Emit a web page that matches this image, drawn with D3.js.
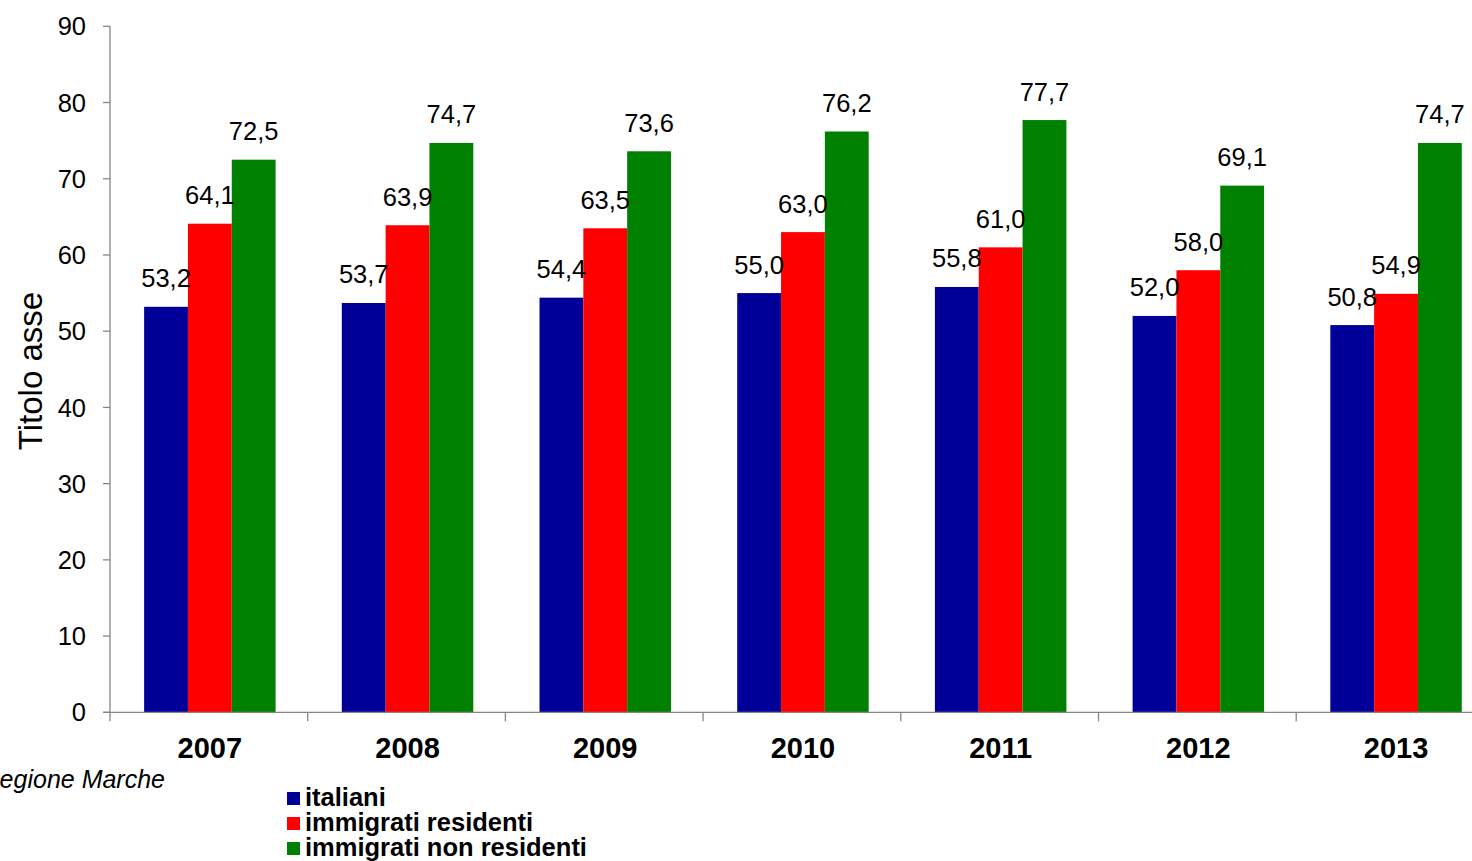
<html>

<head>
    <script src="https://d3js.org/d3.v7.min.js"></script>
    <title>Titolo asse</title>
    <style>
        body { margin: 0; background: #fff; }
        svg { font-family: "Liberation Sans", Arial, sans-serif; display: block; }
    </style>
</head>

<body>
    <div id="vis"></div>
</body>

<script>

    // data
    var years = ["2007", "2008", "2009", "2010", "2011", "2012", "2013"];
    var seriesNames = ["italiani", "immigrati residenti", "immigrati non residenti"];
    var italiani = [53.2, 53.7, 54.4, 55.0, 55.8, 52.0, 50.8];
    var immigratiResidenti = [64.1, 63.9, 63.5, 63.0, 61.0, 58.0, 54.9];
    var immigratiNonResidenti = [72.5, 74.7, 73.6, 76.2, 77.7, 69.1, 74.7];
    var yTicks = [0, 10, 20, 30, 40, 50, 60, 70, 80, 90];
    var colors = ["#000099", "#ff0000", "#008000"];

    var allSeries = [italiani, immigratiResidenti, immigratiNonResidenti];

    var W = 1472, H = 861;
    var plotLeft = 110, plotTop = 26.3, plotBottom = 712.3;
    var step = 197.7;

    var svg = d3.select("#vis")
        .append("svg")
        .attr("width", W)
        .attr("height", H);

    var y = d3.scaleLinear()
        .domain([0, 90])
        .range([plotBottom, plotTop]);

    // the last category runs past the right edge, like the original
    var x = d3.scaleBand()
        .domain(years)
        .range([plotLeft, plotLeft + step * years.length])
        .paddingInner(0.335)
        .paddingOuter(0.1675);

    // bars sit about a pixel right of the band centre
    var xs = d3.scaleBand()
        .domain(seriesNames)
        .range([1, x.bandwidth() + 1]);

    var fmt = d3.formatLocale({ decimal: ",", thousands: ".", grouping: [3], currency: ["", "€"] }).format(".1f");

    var axisColor = "#868686";

    // y axis
    svg.append("line")
        .attr("x1", plotLeft).attr("x2", plotLeft)
        .attr("y1", y(90)).attr("y2", y(0))
        .attr("stroke", axisColor).attr("stroke-width", 1.3);

    svg.append("g").selectAll("line")
        .data(yTicks)
        .enter()
        .append("line")
        .attr("x1", plotLeft - 7).attr("x2", plotLeft)
        .attr("y1", function (d) { return y(d); })
        .attr("y2", function (d) { return y(d); })
        .attr("stroke", axisColor).attr("stroke-width", 1.3);

    svg.append("g").selectAll("text")
        .data(yTicks)
        .enter()
        .append("text")
        .attr("x", 86)
        .attr("y", function (d) { return y(d); })
        .attr("dy", "0.36em")
        .attr("text-anchor", "end")
        .style("font-size", "25.5px")
        .text(function (d) { return d; });

    // y axis title
    svg.append("text")
        .attr("transform", "translate(42," + 371 + ") rotate(-90)")
        .attr("text-anchor", "middle")
        .style("font-size", "33px")
        .text("Titolo asse");

    // bars
    var groups = svg.append("g").selectAll("g")
        .data(years)
        .enter()
        .append("g")
        .attr("transform", function (d) { return "translate(" + x(d) + ",0)"; });

    groups.selectAll("rect")
        .data(function (d, i) {
            return seriesNames.map(function (s, j) { return { s: s, j: j, v: allSeries[j][i] }; });
        })
        .enter()
        .append("rect")
        .attr("x", function (d) { return xs(d.s); })
        .attr("y", function (d) { return y(d.v); })
        .attr("width", xs.bandwidth())
        .attr("height", function (d) { return y(0) - y(d.v); })
        .attr("fill", function (d) { return colors[d.j]; });

    groups.selectAll("text")
        .data(function (d, i) {
            return seriesNames.map(function (s, j) { return { s: s, j: j, v: allSeries[j][i] }; });
        })
        .enter()
        .append("text")
        .attr("x", function (d) { return xs(d.s) + xs.bandwidth() / 2; })
        .attr("y", function (d) { return y(d.v) - 19.5; })
        .attr("text-anchor", "middle")
        .style("font-size", "25.5px")
        .text(function (d) { return fmt(d.v); });

    // x axis
    svg.append("line")
        .attr("x1", plotLeft - 7).attr("x2", W)
        .attr("y1", y(0)).attr("y2", y(0))
        .attr("stroke", axisColor).attr("stroke-width", 1.3);

    var bounds = years.map(function (d) { return x(d) - (x.step() - x.bandwidth()) / 2; });
    svg.append("g").selectAll("line")
        .data(bounds)
        .enter()
        .append("line")
        .attr("x1", function (d) { return d; })
        .attr("x2", function (d) { return d; })
        .attr("y1", y(0)).attr("y2", y(0) + 9)
        .attr("stroke", axisColor).attr("stroke-width", 1.3);

    svg.append("g").selectAll("text")
        .data(years)
        .enter()
        .append("text")
        .attr("x", function (d) { return x(d) + x.bandwidth() / 2 + 1; })
        .attr("y", 758)
        .attr("text-anchor", "middle")
        .style("font-size", "29px")
        .style("font-weight", "bold")
        .text(function (d) { return d; });

    // source note, cut at the left edge
    svg.append("text")
        .attr("x", 165)
        .attr("y", 788)
        .attr("text-anchor", "end")
        .style("font-size", "25px")
        .style("font-style", "italic")
        .text("Regione Marche");

    // legend
    var legend = svg.append("g").selectAll("g")
        .data(seriesNames)
        .enter()
        .append("g")
        .attr("transform", function (d, i) { return "translate(287," + (792 + i * 25) + ")"; });

    legend.append("rect")
        .attr("width", 13).attr("height", 13)
        .attr("fill", function (d, i) { return colors[i]; });

    legend.append("text")
        .attr("x", 18)
        .attr("y", 13.5)
        .style("font-size", "25.5px")
        .style("font-weight", "bold")
        .text(function (d) { return d; });

</script>

</html>
